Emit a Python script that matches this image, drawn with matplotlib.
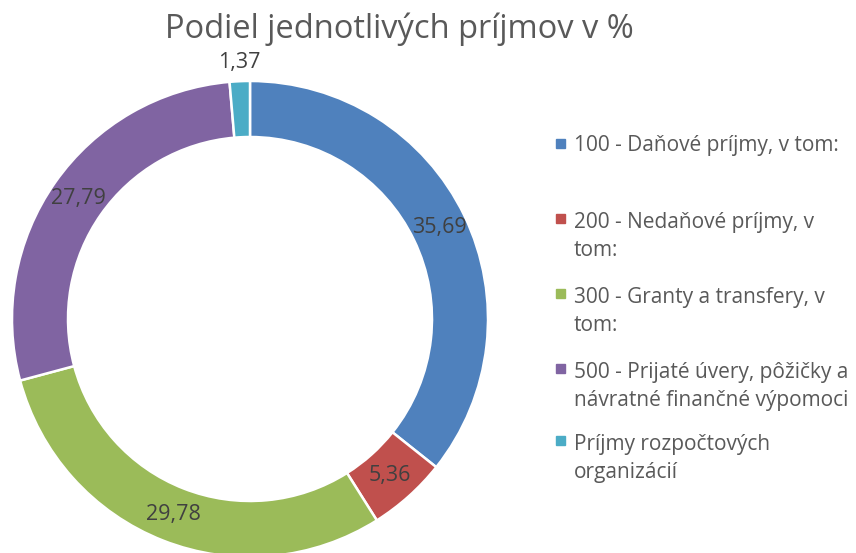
import numpy as np
import matplotlib.pyplot as plt
from matplotlib.patches import Rectangle

# data
labels = ["100 - Daňové príjmy, v tom:",
          "200 - Nedaňové príjmy, v\ntom:",
          "300 - Granty a transfery, v\ntom:",
          "500 - Prijaté úvery, pôžičky a\nnávratné finančné výpomoci",
          "Príjmy rozpočtových\norganizácií"]
values = [35.69, 5.36, 29.78, 27.79, 1.37]
value_text = ["35,69", "5,36", "29,78", "27,79", "1,37"]
colors = ["#4F81BD", "#C0504D", "#9BBB59", "#8064A2", "#4BACC6"]
legend_y = [143, 218, 293, 368, 440]

plt.rcParams['font.family'] = ['Open Sans', 'DejaVu Sans']

W, H = 856, 553
fig = plt.figure(figsize=(W / 100, H / 100), dpi=100)
ax = fig.add_axes([0, 0, 1, 1])

cx, cy = 250, H - 319
r_out, r_in = 238, 182

ax.pie(values, colors=colors, startangle=90, counterclock=False,
       center=(cx, cy), radius=r_out,
       wedgeprops=dict(width=r_out - r_in, edgecolor="white", linewidth=1.8))

ax.set_xlim(0, W)
ax.set_ylim(0, H)
ax.set_aspect("equal")
ax.axis("off")

# data labels
total = sum(values)
cum = 0
for v, t in zip(values, value_text):
    mid = (cum + v / 2) / total * 2 * np.pi
    cum += v
    rr = (r_out + r_in) / 2 if v > 3 else r_out + 19
    x = cx + rr * np.sin(mid)
    y = cy + rr * np.cos(mid)
    ax.text(x, y, t, ha="center", va="center", fontsize=15.5, color="#404040")

# title
fig.text(399 / W, 1 - 29 / H, "Podiel jednotlivých príjmov v %",
         ha="center", va="center", fontsize=23.5, color="#595959")

# legend (baseline of last line -> first line sits next to the marker)
for lab, col, ly in zip(labels, colors, legend_y):
    ax.add_patch(Rectangle((556, H - ly - 4.5), 9, 9, color=col))
    n = lab.count("\n")
    ax.text(574, H - ly - 8 - 30.2 * n, lab, ha="left", va="baseline",
            fontsize=15, color="#595959", linespacing=1.45)

fig.savefig("out.png", dpi=100)
